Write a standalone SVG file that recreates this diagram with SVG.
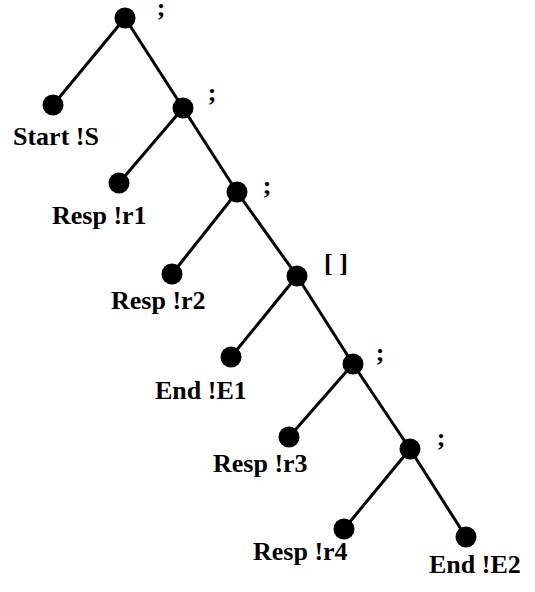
<svg xmlns="http://www.w3.org/2000/svg" width="535" height="592" viewBox="0 0 535 592">
<style>
.n{fill:#000}
.e{stroke:#000;stroke-width:3;fill:none}
.t{font-family:"Liberation Serif","Times New Roman",serif;font-size:26px;font-weight:bold;fill:#000}
.op{text-anchor:middle}
</style>
<rect width="535" height="592" fill="#fff"/>
<g id="connectors" class="e">
<line x1="125" y1="18" x2="53" y2="105"/>
<line x1="125" y1="18" x2="183" y2="108"/>
<line x1="183" y1="108" x2="119" y2="183"/>
<line x1="183" y1="108" x2="237" y2="192"/>
<line x1="237" y1="192" x2="172" y2="274"/>
<line x1="237" y1="192" x2="297" y2="276"/>
<line x1="297" y1="276" x2="231" y2="357"/>
<line x1="297" y1="276" x2="353" y2="364"/>
<line x1="353" y1="364" x2="289" y2="437"/>
<line x1="353" y1="364" x2="410" y2="449"/>
<line x1="410" y1="449" x2="344" y2="529"/>
<line x1="410" y1="449" x2="466" y2="537"/>
</g>
<g id="n0"><circle class="n" cx="125" cy="18" r="10.5"/><text class="t op" x="161" y="16">;</text></g>
<g id="n1"><circle class="n" cx="53" cy="105" r="10.5"/><text class="t" x="13" y="145">Start !S</text></g>
<g id="n2"><circle class="n" cx="183" cy="108" r="10.5"/><text class="t op" x="212" y="101">;</text></g>
<g id="n3"><circle class="n" cx="119" cy="183" r="10.5"/><text class="t" x="52" y="224">Resp !r1</text></g>
<g id="n4"><circle class="n" cx="237" cy="192" r="10.5"/><text class="t op" x="267" y="194">;</text></g>
<g id="n5"><circle class="n" cx="172" cy="274" r="10.5"/><text class="t" x="111" y="309">Resp !r2</text></g>
<g id="n6"><circle class="n" cx="297" cy="276" r="10.5"/><text class="t" x="324" y="272">[ ]</text></g>
<g id="n7"><circle class="n" cx="231" cy="357" r="10.5"/><text class="t" x="155" y="399">End !E1</text></g>
<g id="n8"><circle class="n" cx="353" cy="364" r="10.5"/><text class="t op" x="380" y="361">;</text></g>
<g id="n9"><circle class="n" cx="289" cy="437" r="10.5"/><text class="t" x="213" y="472">Resp !r3</text></g>
<g id="n10"><circle class="n" cx="410" cy="449" r="10.5"/><text class="t op" x="441" y="446">;</text></g>
<g id="n11"><circle class="n" cx="344" cy="529" r="10.5"/><text class="t" x="253" y="560">Resp !r4</text></g>
<g id="n12"><circle class="n" cx="466" cy="537" r="10.5"/><text class="t" x="429" y="573">End !E2</text></g>
</svg>
